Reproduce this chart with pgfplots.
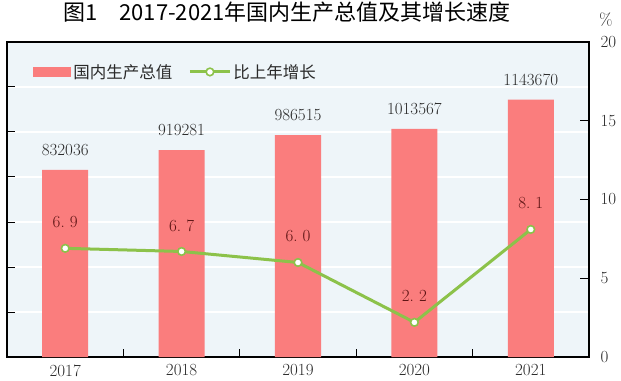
\documentclass[border=0pt]{standalone}
\usepackage{pgfplots}
\pgfplotsset{compat=1.18}
\usepackage{fontspec}
\newfontfamily\cjk{Noto Sans CJK SC}
\definecolor{bg}{HTML}{EEF5F9}
\definecolor{barc}{HTML}{FA7D7D}
\definecolor{lgreen}{HTML}{8CC24A}
\definecolor{lblred}{HTML}{5E1414}
\definecolor{numc}{HTML}{2A2A2A}
\newcommand{\numfont}{\fontsize{17bp}{20bp}\selectfont}
\begin{document}
\begin{tikzpicture}
\begin{axis}[
  at={(0,0)}, anchor=south west,
  scale only axis, width=582bp, height=315bp,
  xmin=-0.5, xmax=4.5, ymin=0, ymax=1400000,
  axis background/.style={fill=bg},
  axis line style={black, line width=1.2bp},
  xtick={0.5,1.5,2.5,3.5}, xticklabels={},
  extra x ticks={0,1,2,3,4}, extra x tick labels={2017,2018,2019,2020,2021},
  extra x tick style={major tick length=0pt},
  xtick pos=bottom, ytick pos=left,
  tick align=inside,
  ytick={200000,400000,600000,800000,1000000,1200000},
  yticklabels={}, scaled y ticks=false,
  ymajorgrids, major grid style={white, line width=1.5bp},
  tick style={black, line width=1bp},
  major tick length=8bp,
  x tick label style={font=\numfont, text=numc, yshift=-4bp},
  /pgf/number format/assume math mode=true,
  legend style={at={(axis description cs:0.04,0.905)}, anchor=west,
    draw=none, fill=none, font=\cjk\fontsize{16.5bp}{19bp}\selectfont, text=numc,
    legend cell align=left,
    /tikz/every even column/.append style={column sep=14bp}},
  legend columns=2,
]
\addplot[ybar, bar width=46bp, fill=barc, draw=none,
  point meta=explicit symbolic, nodes near coords,
  every node near coord/.append style={font=\numfont, text=numc, anchor=center, yshift=20bp},
  legend image code/.code={\fill[barc] (0bp,-5bp) rectangle (38bp,5bp);}]
  coordinates {(0,832036)[832036] (1,919281)[919281] (2,986515)[986515] (3,1013567)[1013567] (4,1143670)[1143670]};
\addlegendentry{国内生产总值}
\addlegendimage{legend image code/.code={\draw[lgreen, line width=3bp, mark=*, mark size=3.8bp,
  mark options={fill=white, draw=lgreen, line width=1.6bp}, mark repeat=2, mark phase=2] plot coordinates {(0bp,0bp) (20bp,0bp) (40bp,0bp)};}}
\addlegendentry{比上年增长}
\end{axis}
\begin{axis}[
  at={(0,0)}, anchor=south west,
  scale only axis, width=582bp, height=315bp,
  xmin=-0.5, xmax=4.5, ymin=0, ymax=20,
  axis x line=none, axis y line*=right,
  axis line style={black, line width=1.2bp},
  ytick={0,5,10,15,20},
  tick align=inside,
  tick style={black, line width=1bp},
  major tick length=9bp,
  y tick label style={font=\numfont, text=numc, xshift=8bp},
  /pgf/number format/assume math mode=true,
  clip=false,
]
\addplot[lgreen, line width=3bp, mark=*, mark size=3.8bp,
  mark options={fill=white, draw=lgreen, line width=1.6bp},
  point meta=explicit symbolic, nodes near coords,
  every node near coord/.append style={font=\numfont, text=lblred, anchor=center, yshift=26bp}]
  coordinates {(0,6.9)[6.~9] (1,6.7)[6.~7] (2,6.0)[6.~0] (3,2.2)[2.~2] (4,8.1)[8.~1]};
\node[font=\numfont, text=numc] at (rel axis cs:1,1) [xshift=17bp, yshift=22bp] {\%};
\end{axis}
\node[font=\cjk\fontsize{22bp}{25bp}\selectfont, text=black] at (280bp,345bp) {图1\quad 2017-2021年国内生产总值及其增长速度};
\pgfresetboundingbox
\path (-7bp,-24bp) rectangle (614bp,357bp);
\end{tikzpicture}
\end{document}
